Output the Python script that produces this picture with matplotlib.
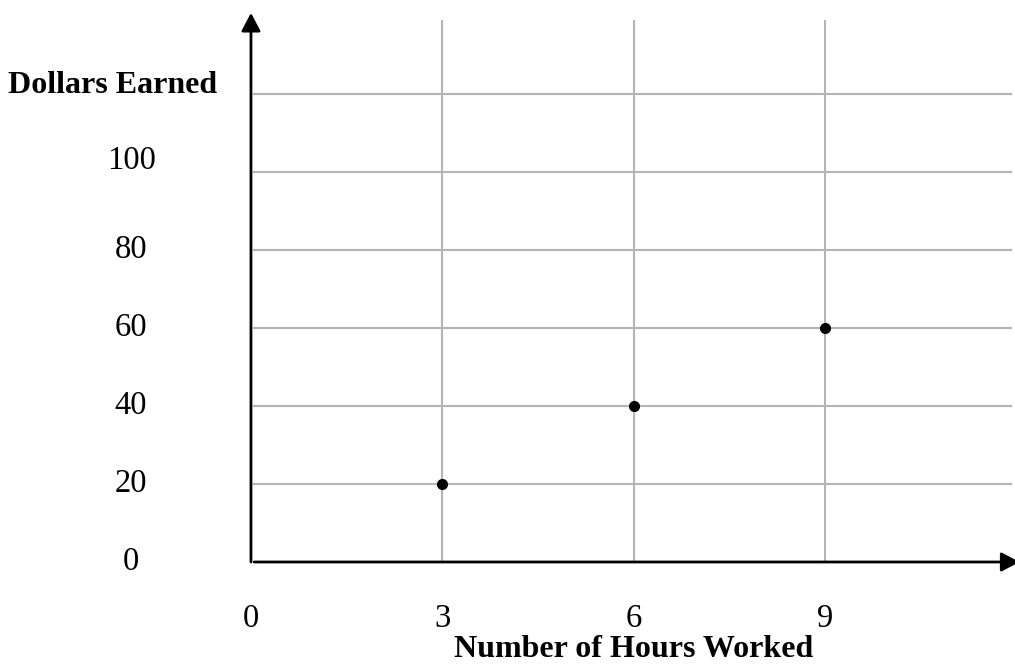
import matplotlib.pyplot as plt

# data
hours = [3, 6, 9]
dollars = [20, 40, 60]
y_ticks = [0, 20, 40, 60, 80, 100]
y_grid = [20, 40, 60, 80, 100, 120]
x_ticks = [0, 3, 6, 9]
x_grid = [3, 6, 9]

plt.rcParams['font.family'] = ['Liberation Serif', 'DejaVu Serif']

fig = plt.figure(figsize=(10.15, 6.71), dpi=100)
ax = fig.add_axes([0, 0, 1, 1])
ax.set_xlim(-3.935, 11.979)
ax.set_ylim(-27.95, 144.1)
ax.axis('off')

grid_col = '#b4b4b4'
# horizontal grid lines
ax.hlines(y_grid, 0.03, 11.93, color=grid_col, lw=1.5, zorder=1)
# vertical grid lines
ax.vlines(x_grid, 0, 139, color=grid_col, lw=1.5, zorder=1)

# axes with arrows
arrow = dict(arrowstyle='-|>,head_length=1.1,head_width=0.58',
             color='black', lw=2, shrinkA=0, shrinkB=0)
ax.annotate('', xy=(0, 140.8), xytext=(0, 0), arrowprops=arrow,
            annotation_clip=False)
ax.annotate('', xy=(12.05, 0), xytext=(0.05, 0), arrowprops=arrow,
            annotation_clip=False)

# points
ax.plot(hours, dollars, 'o', color='black', markersize=7, zorder=3)

# tick labels
for v in y_ticks:
    yy = v + 3 if v == 100 else v
    ax.text(-1.88, yy, str(v), ha='center', va='center', fontsize=23.5)
for v in x_ticks:
    ax.text(v, -14.6, str(v), ha='center', va='center', fontsize=23.5)

# axis titles
ax.text(-2.17, 122.2, 'Dollars Earned', ha='center', va='center',
        fontsize=23, fontweight='bold')
ax.text(6, -22.5, 'Number of Hours Worked', ha='center', va='center',
        fontsize=23, fontweight='bold')

fig.savefig('out.png', dpi=100)
